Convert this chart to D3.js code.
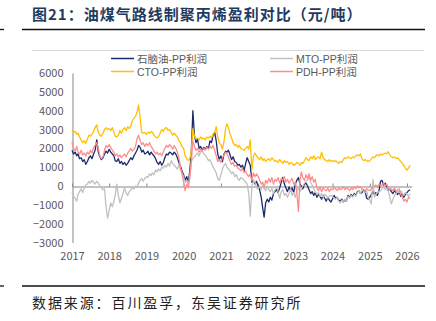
<!DOCTYPE html>
<meta charset="utf-8">
<style>
  body { margin: 0; background: #fff; }
  svg text { font-family: "Noto Sans CJK SC", "Noto Sans", sans-serif; }
  .axis text { font-size: 11px; fill: #595959; }
  .axis path, .axis line { stroke: #868686; }
  .legend text { font-family: "Liberation Sans", "Noto Sans CJK SC", sans-serif; font-size: 10.5px; fill: #595959; }
</style>
<body>
<div id="chart"></div>
<script src="https://d3js.org/d3.v7.min.js"></script>
<script>
// semi-monthly profit points (1st and 16th of each month), Jan 2017 - Feb 2026, yuan/ton
const naphthaPP = [
  1900, 1700, 1800, 1600, 1700, 1450, 1500, 1300, 1400, 1150, 1300, 1500, 1600, 1450, 1700, 1900, 2450, 1800, 1550, 1400, 1500, 1700, 1850, 1750,
  1950, 1800, 1700, 1600, 1350, 1300, 1450, 1200, 1300, 1150, 1250, 1100, 1200, 1350, 1500, 1400, 1600, 1750, 1900, 2150, 2050, 1800, 1900, 1700,
  1750, 1850, 1650, 1800, 1700, 1600, 1450, 1250, 1150, 1300, 1100, 1250, 1500, 1700, 1650, 1800, 1750, 1650, 1800, 1700, 1500, 1250, 1050, 800,
  600, 300, 500, 150, 800, 1700, 4000, 2700, 2300, 2500, 2000, 2100, 1900, 2050, 1950, 2100, 2000, 2400, 2300, 2700, 2850, 2400, 1700, 1400,
  1600, 1300, 1700, 1850, 1800, 1900, 1650, 1400, 1550, 1300, 1250, 1100, 1150, 1000, 1100, 800, 1200, 1500, 1300, 1100, 200, 300, 100, 250,
  0, -200, -600, -1200, -1650, -900, -700, -850, -600, -750, -400, -300, -200, -350, -100, 200, 450, 100, -100, -300, -50, -250, -100, -350,
  100, 300, 450, 100, 0, -150, 100, 150, 0, -200, -400, -300, -500, -350, -600, -450, -550, -700, -500, -650, -800, -600, -750, -850,
  -700, -500, -650, -600, -750, -800, -700, -850, -750, -800, -500, -600, -450, -550, -400, -500, -300, -250, -400, -350, -200, -300, -650, -700,
  -600, -450, -300, -450, -350, -500, -250, 250, 300, 50, 150, -50, -250, -150, -300, -400, -250, -350, -450, -300, -550, -400, -600, -450,
  -350, -250, -200
];
const mtoPP = [
  -300, -550, -650, -800, -450, -300, -150, -350, -100, 50, 100, 250, 150, 300, 200, 100, 250, 150, 0, -100, -200, -150, -1100, -1700,
  -1300, -900, -1100, -800, -500, 100, -500, -900, -650, -400, -100, -350, -500, -300, -200, -100, -150, 0, -50, 150, 300, 400, 250, 400,
  500, 450, 650, 550, 700, 600, 850, 750, 900, 800, 1000, 950, 1100, 1000, 1200, 1050, 1350, 1200, 1100, 1000, 900, 1150, 850, 700,
  500, 200, 300, 100, 500, 1300, 1450, 1550, 1650, 1750, 1600, 1800, 1900, 1700, 1650, 1500, 1350, 1400, 1200, 1000, 850, 700, 400, 300,
  600, 900, 1100, 1200, 1000, 900, 800, 650, 750, 500, 600, 400, 300, 450, 400, 300, 200, 100, -400, -1600, 0, 300, 200, -100,
  -150, 0, -200, 50, -100, -250, 0, -200, -300, -100, -400, -200, -50, -300, -650, -300, -200, -500, -400, -600, -400, -150, -500, -350,
  -600, -250, -100, -300, -150, 0, 150, 250, 300, 500, 200, 50, -150, -300, -450, -350, -550, -400, -600, -450, -500, -650, -550, -500,
  -550, -650, -700, -600, -800, -900, -750, -850, -700, -800, -550, -650, -500, -600, -450, -550, -350, -250, -400, -200, -300, -350, -250, -600,
  -750, -950, 350, -600, -450, -350, -300, -250, -150, -50, -200, -100, -250, -600, -950, -700, -500, -400, -300, -350, -250, -400, -500, -350,
  -450, -550, -400
];
const ctoPP = [
  2950, 2850, 2900, 2750, 2800, 2600, 2450, 2300, 2400, 2250, 2500, 2700, 2650, 2750, 2900, 3100, 3250, 2850, 2700, 2650, 2800, 3000, 3100, 3000,
  3050, 2950, 3100, 2850, 2650, 2600, 2700, 2950, 2800, 3000, 3100, 2950, 3150, 3050, 3200, 3450, 3600, 3700, 3900, 4300, 3600, 2850, 2800, 2850,
  2750, 2850, 2800, 2900, 2850, 2700, 2600, 2550, 2650, 2800, 3000, 2900, 3050, 3100, 2950, 3000, 2850, 2700, 2800, 2700, 2600, 2400, 2300, 2100,
  2000, 1600, 1450, 1350, 1450, 1800, 3050, 2650, 2500, 2550, 2450, 2600, 2500, 2550, 2450, 2600, 2550, 2650, 2550, 2750, 2850, 3150, 2600, 2300,
  2200, 1950, 2400, 3050, 3300, 3100, 2750, 2550, 2300, 2150, 2200, 2050, 2150, 2000, 1950, 1900, 2000, 2100, 1950, 2450, 850, 1600, 1750, 1600,
  1500, 1400, 1550, 1350, 1450, 1300, 1400, 1450, 1350, 1500, 1400, 1300, 1350, 1250, 1400, 1300, 1200, 1350, 1250, 1300, 1150, 1250, 1200, 1100,
  1150, 1250, 1200, 1100, 1250, 1200, 1350, 1500, 1400, 1350, 1550, 1450, 1600, 1400, 1500, 1550, 1450, 1800, 1500, 1400, 1350, 1300, 1400, 1300,
  1350, 1300, 1350, 1250, 1200, 1300, 1250, 1400, 1500, 1450, 1550, 1500, 1450, 1550, 1500, 1600, 1650, 1600, 1700, 1450, 1350, 1400, 1350, 1300,
  1350, 1450, 1550, 1500, 1600, 1650, 1600, 1700, 1650, 1700, 1750, 1700, 1820, 1650, 1550, 1500, 1550, 1450, 1500, 1400, 1300, 1200, 1100, 950,
  850, 950, 1100
];
const pdhPP = [
  2350, 2000, 1850, 2100, 1800, 1700, 1900, 1650, 1750, 1600, 1800, 1700, 1900, 1750, 2050, 2150, 2300, 2000, 1600, 1450, 1550, 1900, 2150, 2050,
  2200, 2050, 1900, 1800, 1600, 1700, 1550, 1650, 1500, 1600, 1700, 1550, 1750, 1850, 2000, 1850, 1950, 2100, 2500, 2700, 2400, 2200, 2300, 2100,
  2250, 2150, 2300, 2100, 2000, 1850, 1700, 1800, 1650, 1750, 1600, 1800, 2000, 2150, 2050, 2200, 2100, 1950, 2150, 2000, 1800, 1500, 1000, 650,
  200, -250, 100, -100, 400, 1200, 2400, 2100, 1900, 2000, 1800, 1950, 1850, 2000, 1900, 2050, 1950, 2100, 2000, 2150, 1900, 1600, 1300, 1400,
  1250, 1500, 1650, 1800, 1700, 1550, 1300, 1150, 1250, 1050, 1100, 950, 900, 800, 950, 700, 800, 600, 500, 650, 300, 700, 500, 650,
  500, 300, 100, 200, -100, 300, 150, 400, 200, 450, 100, 350, 250, 450, 150, 400, 300, 500, 200, 350, 150, 300, 400, 100,
  200, -350, -1350, 300, 750, 450, 300, 600, 400, 650, 300, 500, 200, 350, -100, -250, -50, -300, -100, -200, -250, -100, -300, -150,
  -200, -100, -150, -250, -100, -200, -150, -50, -200, -100, -150, -250, -100, -200, -50, -150, 0, -100, -50, -150, -200, -250, -150, -200,
  -250, -150, -50, 0, 50, -50, 100, 0, 50, 150, 0, 100, -100, -200, -150, -250, -100, -300, -200, -150, -450, -600, -800, -700,
  -850, -600, -650
];

const yTicks = [-3000, -2000, -1000, 0, 1000, 2000, 3000, 4000, 5000, 6000];
const yearTicks = d3.range(2017, 2027);

const seriesNames = ["石脑油-PP利润", "MTO-PP利润", "CTO-PP利润", "PDH-PP利润"];
const seriesColors = ["#1b2a6b", "#c0c0c0", "#ffc000", "#ff8c8c"];
const seriesValues = [naphthaPP, mtoPP, ctoPP, pdhPP];

const dates = d3.timeMonth.range(new Date(2017, 0, 1), new Date(2026, 2, 1))
  .flatMap(m => [m, d3.timeDay.offset(m, 15)])
  .slice(0, naphthaPP.length);

const W = 436, H = 321;
const svg = d3.select("#chart").append("svg")
  .attr("width", W).attr("height", H);

// header
svg.append("text")
  .attr("x", 32).attr("y", 20)
  .attr("fill", "#1f3a5f")
  .style("font-size", "15px").style("font-weight", "bold")
  .style("letter-spacing", "1px")
  .text("图21：油煤气路线制聚丙烯盈利对比（元/吨）");
svg.append("line").attr("x1", 22).attr("x2", 425).attr("y1", 29.5).attr("y2", 29.5)
  .attr("stroke", "#111").attr("stroke-width", 1.3);
svg.append("line").attr("x1", 0).attr("x2", 4).attr("y1", 29.5).attr("y2", 29.5)
  .attr("stroke", "#111").attr("stroke-width", 1.3);
svg.append("line").attr("x1", 32).attr("x2", 424).attr("y1", 50.5).attr("y2", 50.5)
  .attr("stroke", "#d9d9d9").attr("stroke-width", 1);

// scales
const x = d3.scaleTime()
  .domain([new Date(2017, 0, 1), new Date(2026, 0, 1)])
  .range([72, 407]);
const y = d3.scaleLinear()
  .domain([-3000, 6000])
  .range([242.5, 73]);

// y axis
svg.append("g")
  .attr("class", "axis")
  .attr("transform", "translate(72.5,0)")
  .call(d3.axisLeft(y).tickValues(yTicks).tickSize(0).tickPadding(9).tickFormat(d3.format("d")));

// zero line with small year ticks pointing up
const xEnd = x(new Date(2026, 1, 15));
svg.append("g")
  .attr("class", "axis")
  .attr("transform", `translate(0,${Math.round(y(0)) + 0.5})`)
  .call(d3.axisTop(x.copy().domain([x.domain()[0], new Date(2026, 1, 15)]).range([72, xEnd]))
    .tickValues(yearTicks.map(yr => new Date(yr, 0, 1)))
    .tickSize(3).tickSizeOuter(0).tickFormat(""));

// year labels at the bottom
svg.append("g")
  .attr("class", "axis")
  .attr("transform", "translate(0,249)")
  .call(d3.axisBottom(x)
    .tickValues(yearTicks.map(yr => new Date(yr, 0, 1)))
    .tickSize(0).tickPadding(3).tickFormat(d3.timeFormat("%Y")))
  .call(g => g.select(".domain").remove());

// lines
const line = d3.line()
  .x((d, i) => x(dates[i]))
  .y(d => y(d));

seriesValues.forEach((vals, i) => {
  svg.append("path")
    .datum(vals)
    .attr("fill", "none")
    .attr("stroke", seriesColors[i])
    .attr("stroke-width", 1.3)
    .attr("stroke-linejoin", "round")
    .attr("d", line);
});

// legend, two columns by two rows
const legendPos = [[111, 58.5], [270, 58.5], [111, 71.5], [270, 71.5]];
const legend = svg.append("g").attr("class", "legend");
seriesNames.forEach((name, i) => {
  const [lx, ly] = legendPos[i];
  legend.append("line")
    .attr("x1", lx).attr("x2", lx + 23).attr("y1", ly).attr("y2", ly)
    .attr("stroke", seriesColors[i]).attr("stroke-width", 1.5);
  legend.append("text")
    .attr("x", lx + 26).attr("y", ly + 4)
    .text(name);
});

// footer
svg.append("line").attr("x1", 22).attr("x2", 425).attr("y1", 286).attr("y2", 286)
  .attr("stroke", "#111").attr("stroke-width", 1.3);
svg.append("line").attr("x1", 0).attr("x2", 4).attr("y1", 286).attr("y2", 286)
  .attr("stroke", "#111").attr("stroke-width", 1.3);
svg.append("text")
  .attr("x", 32).attr("y", 308)
  .attr("fill", "#222")
  .style("font-size", "14px")
  .style("letter-spacing", "1.9px")
  .text("数据来源：百川盈孚，东吴证券研究所");
</script>
</body>
